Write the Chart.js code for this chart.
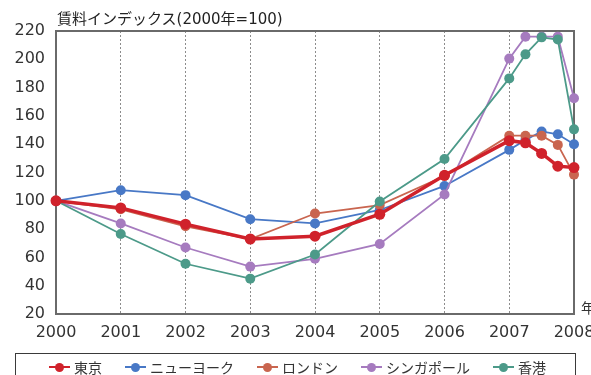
<!DOCTYPE html>
<html lang="ja">
<head>
<meta charset="utf-8">
<title>賃料インデックス</title>
<script src="https://cdn.jsdelivr.net/npm/chart.js@4/dist/chart.umd.min.js"></script>
<style>
  html, body { margin: 0; padding: 0; background: #fff; overflow: hidden; }
  #wrap { position: relative; width: 591px; height: 375px; overflow: hidden; }
  #chart { position: absolute; left: 0; top: 0; }
  .title {
    position: absolute; left: 57px; top: 11px;
    font: 15px/16px "DejaVu Sans", "Noto Sans CJK JP", sans-serif;
    color: #222; white-space: nowrap;
  }
  .unit {
    position: absolute; left: 581px; top: 300px;
    font: 14px/15px "Noto Sans CJK JP", sans-serif; color: #333;
  }
  .legend {
    position: absolute; left: 15px; top: 353px; width: 561px; height: 40px;
    border: 1.5px solid #3a3a3a; box-sizing: border-box;
    display: flex; align-items: flex-start; padding: 3px 0 0 33px; gap: 23px;
    font: 14px/20px "Noto Sans CJK JP", sans-serif; color: #333;
  }
  .item { display: flex; align-items: center; white-space: nowrap; }
  .mark { position: relative; width: 21px; height: 20px; margin-right: 4px; }
  .mark .ln { position: absolute; left: 0; right: 0; top: 9px; height: 2px; }
  .mark .dt { position: absolute; left: 6px; top: 5.5px; width: 9px; height: 9px; border-radius: 50%; }
</style>
</head>
<body>
<div id="wrap">
  <canvas id="chart" width="591" height="375"></canvas>
  <div class="title">賃料インデックス(2000年=100)</div>
  <div class="unit">年</div>
  <div class="legend" id="legend"></div>
</div>
<script>
// x positions: yearly to 2007, quarterly through 2007–2008
const years = [2000, 2001, 2002, 2003, 2004, 2005, 2006, 2007, 2007.25, 2007.5, 2007.75, 2008];

const tokyo     = [100, 95, 83.5, 73, 75, 90.5, 118, 142.5, 141, 133.5, 124.5, 123.5];
const newYork   = [100, 107.5, 104, 87, 84, 93.5, 110.5, 136, 143, 149, 147, 140];
const london    = [100, 94, 82, 73, 91, 97, 117.5, 146, 146, 146, 139.5, 118.5];
const singapore = [100, 84, 67, 53.5, 59, 69.5, 104.5, 200.5, 216, 216, 216, 172.5];
const hongKong  = [100, 76.5, 55.5, 45, 62, 99.5, 129.5, 186.5, 203.5, 215.5, 214, 150.5];

const seriesNames  = ['東京', 'ニューヨーク', 'ロンドン', 'シンガポール', '香港'];
const seriesValues = [tokyo, newYork, london, singapore, hongKong];
const seriesColors = ['#d0222b', '#4878c6', '#c9654f', '#a67bbf', '#4c9a89'];
const seriesWidths = [3.5, 1.8, 1.8, 1.8, 1.8];
const drawOrder    = [0, 4, 3, 2, 1];   // lower = drawn on top

const yMin = 20, yMax = 220, yStep = 20;
const xMin = 2000, xMax = 2008;

const datasets = seriesNames.map((name, i) => ({
  label: name,
  data: years.map((x, j) => ({ x: x, y: seriesValues[i][j] })),
  borderColor: seriesColors[i],
  backgroundColor: seriesColors[i],
  pointBackgroundColor: seriesColors[i],
  pointBorderColor: seriesColors[i],
  pointBorderWidth: 0,
  pointRadius: i === 0 ? 5.5 : 5,
  borderWidth: seriesWidths[i],
  tension: 0,
  order: drawOrder[i],
  clip: false
}));

// frame around the plotting area
const frame = {
  id: 'frame',
  beforeDatasetsDraw(chart) {
    const a = chart.chartArea, ctx = chart.ctx;
    ctx.save();
    ctx.strokeStyle = '#6a6a6a';
    ctx.lineWidth = 2;
    ctx.strokeRect(a.left, a.top, a.right - a.left, a.bottom - a.top);
    ctx.restore();
  }
};

new Chart(document.getElementById('chart'), {
  type: 'line',
  data: { datasets: datasets },
  plugins: [frame],
  options: {
    responsive: false,
    animation: false,
    layout: { padding: { left: 0, right: 17, top: 31, bottom: 0 } },
    plugins: { legend: { display: false }, tooltip: { enabled: false }, title: { display: false } },
    scales: {
      x: {
        type: 'linear', min: xMin, max: xMax,
        afterFit(s) { s.height = 61; s.paddingLeft = 0; s.paddingRight = 0; },
        // dotted year lines
        border: { display: false, dash: [2, 2] },
        grid: {
          drawTicks: false,
          lineWidth: 1,
          color: c => (c.tick && (c.tick.value === xMin || c.tick.value === xMax)) ? 'rgba(0,0,0,0)' : '#8c8c8c'
        },
        ticks: {
          stepSize: 1, padding: 9, maxRotation: 0, autoSkip: false,
          color: '#333',
          font: { family: 'DejaVu Sans', size: 16 },
          callback: v => String(v)
        }
      },
      y: {
        min: yMin, max: yMax,
        afterFit(s) { s.width = 56; },
        border: { display: false },
        grid: { display: false, drawTicks: false },
        ticks: {
          stepSize: yStep, padding: 11,
          color: '#333',
          font: { family: 'DejaVu Sans', size: 16 }
        }
      }
    }
  }
});

// legend entries built from the series lists
const legend = document.getElementById('legend');
seriesNames.forEach((name, i) => {
  const item = document.createElement('div');
  item.className = 'item';
  const mark = document.createElement('span');
  mark.className = 'mark';
  const ln = document.createElement('span');
  ln.className = 'ln'; ln.style.background = seriesColors[i];
  const dt = document.createElement('span');
  dt.className = 'dt'; dt.style.background = seriesColors[i];
  mark.appendChild(ln); mark.appendChild(dt);
  const txt = document.createElement('span');
  txt.textContent = name;
  item.appendChild(mark); item.appendChild(txt);
  legend.appendChild(item);
});
</script>
</body>
</html>
